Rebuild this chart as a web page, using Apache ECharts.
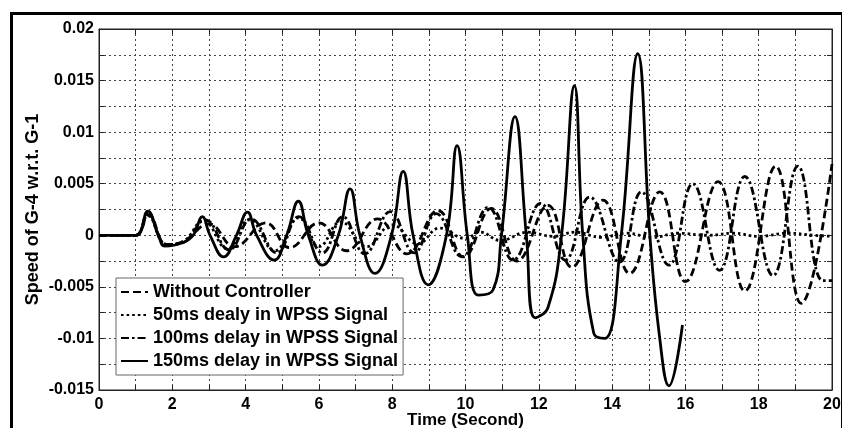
<!DOCTYPE html>
<html><head><meta charset="utf-8">
<script src="https://cdn.jsdelivr.net/npm/echarts@6/dist/echarts.min.js"></script>
<style>html,body{margin:0;padding:0;background:#fff}#c{width:842px;height:428px}</style>
</head><body><div id="c"></div>
<script>
// ---- tick labels ----
const xTickLabels = ['0','2','4','6','8','10','12','14','16','18','20'];
const yTickLabels = ['-0.015','-0.01','-0.005','0','0.005','0.01','0.015','0.02'];

// ---- series names ----
const seriesNames = ['Without Controller','50ms dealy in WPSS Signal','100ms delay in WPSS Signal','150ms delay in WPSS Signal'];

// ---- series values [time (s), speed] ----
const withoutController = [[0,0],[1.0,0],[1.35,0.0020],[1.85,-0.0009],[2.3,-0.0006],[3.0,0.0011],[3.7,-0.0011],[4.55,0.0012],[5.2,-0.0012],[6.0,0.0012],[6.75,-0.0015],[7.6,0.0016],[8.4,-0.0018],[9.25,0.0024],[9.95,-0.0021],[10.7,0.0026],[11.4,-0.0025],[12.25,0.0029],[12.9,-0.0031],[13.75,0.0034],[14.48,-0.0037],[15.3,0.0042],[16.0,-0.0045],[16.89,0.0052],[17.62,-0.0054],[18.46,0.0067],[19.16,-0.0066],[20,0.0069]];
const delay50ms = [[0,0],[1.0,0],[1.33,0.0019],[1.85,-0.0009],[2.3,-0.0006],[2.85,0.0014],[3.5,-0.0013],[4.1,0.0015],[4.8,-0.0015],[5.45,0.0017],[6.0,-0.0011],[6.6,0.0013],[7.3,-0.0011],[8.0,0.0010],[8.7,-0.0008],[9.3,0.0007],[10.0,-0.0003],[10.4,0.0003],[10.95,-0.0005],[11.7,0.0003],[12.4,-0.0001],[13.0,0.0003],[13.7,-0.0002],[14.4,0.0002],[15.1,-0.0002],[15.8,0.0002],[16.6,0.0000],[17.3,0.0002],[18.0,-0.0001],[18.8,0.0002],[19.5,0.0000],[20,-0.0001]];
const delay100ms = [[0,0],[1.0,0],[1.33,0.0021],[1.85,-0.0009],[2.3,-0.0007],[2.9,0.0015],[3.55,-0.0014],[4.15,0.0016],[4.85,-0.0017],[5.45,0.0018],[6.1,-0.0017],[6.65,0.0018],[7.25,-0.0018],[7.95,0.0023],[8.6,-0.0017],[9.2,0.0021],[9.9,-0.0021],[10.62,0.0027],[11.3,-0.0024],[12.05,0.0031],[12.72,-0.0024],[13.39,0.0037],[14.2,-0.0026],[14.8,0.0042],[15.55,-0.0029],[16.2,0.0050],[16.93,-0.0034],[17.62,0.0057],[18.39,-0.0039],[19.07,0.0067],[19.75,-0.0044],[20,-0.0044]];
const delay150ms = [[0,0],[1.0,0],[1.33,0.00235],[1.62,0],[1.8,-0.00105],[2.3,-0.0007],[2.57,0],[2.82,0.0018],[3.03,0],[3.4,-0.0021],[3.75,0],[4.05,0.00225],[4.3,0],[4.78,-0.0024],[5.12,0],[5.44,0.0033],[5.71,0],[6.1,-0.0029],[6.53,0],[6.85,0.0045],[7.12,0],[7.53,-0.0037],[7.98,0],[8.3,0.0062],[8.57,0],[8.98,-0.0048],[9.48,0],[9.77,0.0087],[10.05,0],[10.35,-0.0058],[10.75,-0.0053],[10.98,0],[11.35,0.0115],[11.66,0],[11.9,-0.0080],[12.25,-0.0070],[12.62,0],[12.97,0.0145],[13.2,0],[13.5,-0.0095],[13.8,-0.0100],[14.25,0],[14.7,0.0176],[15.03,0],[15.3,-0.0100],[15.55,-0.0146],[15.92,-0.0087]];

const FONT = '"Liberation Sans", Arial, Helvetica, sans-serif';
const chart = echarts.init(document.getElementById('c'), null, {renderer:'canvas'});

function fmtX(v){ const s = String(Math.round(v)); return xTickLabels.indexOf(s) >= 0 ? s : ''; }
function fmtY(v){ const s = String(+v.toFixed(4)); return yTickLabels.indexOf(s) >= 0 ? s : ''; }

const gridLine = {show:true, lineStyle:{color:'#444', width:1, type:[2,3]}};
const lineStyles = [
  {type:[8,4], width:2.8},
  {type:[2.6,3], width:2.8},
  {type:[8,3,2.6,3], width:2.8},
  {type:'solid', width:2.8}
];
const datasets = [withoutController, delay50ms, delay100ms, delay150ms];

chart.setOption({
  animation:false,
  backgroundColor:'#fff',
  grid:{left:99, right:10, top:29, bottom:38, show:true, borderColor:'#222', borderWidth:1, backgroundColor:'transparent', containLabel:false, outerBoundsMode:'none'},
  legend:{
    orient:'vertical', left:116, top:278,
    itemWidth:27, itemHeight:12, itemGap:3,
    padding:[4,5,4,4],
    backgroundColor:'#fff', borderColor:'#666', borderWidth:1,
    itemStyle:{opacity:0},
    textStyle:{fontSize:18, fontWeight:'bold', color:'#000', fontFamily:FONT, lineHeight:20},
    data:seriesNames
  },
  xAxis:[{
    type:'value', min:0, max:20, interval:1,
    name:'Time (Second)', nameLocation:'middle', nameGap:22, nameMoveOverlap:false,
    nameTextStyle:{fontSize:17, fontWeight:'bold', color:'#000', fontFamily:FONT},
    axisLine:{show:true, onZero:false, lineStyle:{color:'#222', width:1}},
    axisTick:{show:true, inside:true, length:5, lineStyle:{color:'#222'}},
    axisLabel:{formatter:fmtX, fontSize:16, fontWeight:'bold', color:'#000', fontFamily:FONT, margin:7, showMinLabel:true, showMaxLabel:true},
    splitLine:gridLine
  },{
    type:'value', min:0, max:20, interval:1, position:'top',
    axisLine:{show:true, onZero:false, lineStyle:{color:'#222', width:1}},
    axisTick:{show:true, inside:true, length:5, lineStyle:{color:'#222'}},
    axisLabel:{show:false}, splitLine:{show:false}
  }],
  yAxis:[{
    type:'value', min:-0.015, max:0.02, interval:0.0025,
    name:'Speed of G-4 w.r.t. G-1', nameLocation:'middle', nameGap:57, nameRotate:90, nameMoveOverlap:false,
    nameTextStyle:{fontSize:18, fontWeight:'bold', color:'#000', fontFamily:FONT},
    axisLine:{show:true, onZero:false, lineStyle:{color:'#222', width:1}},
    axisTick:{show:true, inside:true, length:5, lineStyle:{color:'#222'}},
    axisLabel:{formatter:fmtY, fontSize:16, fontWeight:'bold', color:'#000', fontFamily:FONT, margin:5, showMinLabel:true, showMaxLabel:true},
    splitLine:gridLine
  },{
    type:'value', min:-0.015, max:0.02, interval:0.0025, position:'right',
    axisLine:{show:true, onZero:false, lineStyle:{color:'#222', width:1}},
    axisTick:{show:true, inside:true, length:5, lineStyle:{color:'#222'}},
    axisLabel:{show:false}, splitLine:{show:false}
  }],
  series: seriesNames.map((n,i)=>({
    name:n, type:'line', xAxisIndex:0, yAxisIndex:0,
    data:datasets[i], symbol:'none', showSymbol:false, smooth:0.45,
    lineStyle:Object.assign({color:'#000', cap:'butt'}, lineStyles[i]),
    itemStyle:{color:'#000'}, z:2+i
  })),
  graphic:[{
    type:'rect', left:9, top:11, silent:true,
    shape:{x:0, y:0, width:831, height:440},
    style:{fill:'none', stroke:'#000', lineWidth:3}, z:100
  }]
});
</script></body></html>
